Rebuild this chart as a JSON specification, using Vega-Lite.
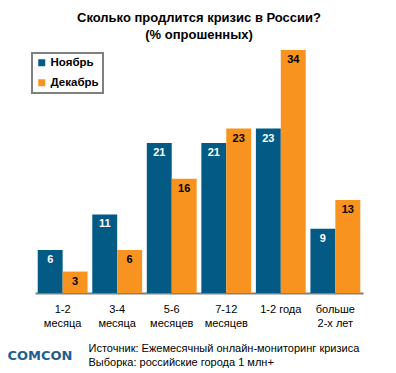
{
  "$schema": "https://vega.github.io/schema/vega-lite/v6.json",
  "autosize": "none",
  "padding": {"left": 35, "top": 50, "right": 33, "bottom": 80},
  "width": 328,
  "height": 243,
  "background": "white",
  "config": {
    "font": "Liberation Sans",
    "view": {"stroke": null}
  },
  "title": {
    "text": ["Сколько продлится кризис в России?", "(% опрошенных)"],
    "fontSize": 13,
    "fontWeight": "bold",
    "lineHeight": 17,
    "anchor": "middle",
    "offset": 8,
    "color": "black",
    "font": "Liberation Sans"
  },
  "data": {
    "values": [
      {"cat": "1-2|месяца", "series": "Ноябрь", "value": 6},
      {"cat": "1-2|месяца", "series": "Декабрь", "value": 3},
      {"cat": "3-4|месяца", "series": "Ноябрь", "value": 11},
      {"cat": "3-4|месяца", "series": "Декабрь", "value": 6},
      {"cat": "5-6|месяцев", "series": "Ноябрь", "value": 21},
      {"cat": "5-6|месяцев", "series": "Декабрь", "value": 16},
      {"cat": "7-12|месяцев", "series": "Ноябрь", "value": 21},
      {"cat": "7-12|месяцев", "series": "Декабрь", "value": 23},
      {"cat": "1-2 года", "series": "Ноябрь", "value": 23},
      {"cat": "1-2 года", "series": "Декабрь", "value": 34},
      {"cat": "больше|2-х лет", "series": "Ноябрь", "value": 9},
      {"cat": "больше|2-х лет", "series": "Декабрь", "value": 13}
    ]
  },
  "encoding": {
    "x": {
      "field": "cat",
      "type": "nominal",
      "sort": ["1-2|месяца", "3-4|месяца", "5-6|месяцев", "7-12|месяцев", "1-2 года", "больше|2-х лет"],
      "scale": {"paddingInner": 0.086, "paddingOuter": 0.05},
      "axis": {
        "labelAngle": 0,
        "labelExpr": "split(datum.label, '|')",
        "labelFontSize": 11,
        "labelColor": "black",
        "labelLineHeight": 14,
        "labelPadding": 10,
        "labelBaseline": "top",
        "ticks": false,
        "domainColor": "#808080",
        "domainWidth": 2,
        "title": ["Источник: Ежемесячный онлайн-мониторинг кризиса", "Выборка: российские города 1 млн+"],
        "titleFontSize": 11,
        "titleFontWeight": "normal",
        "titleColor": "black",
        "titleLineHeight": 14,
        "titleAlign": "left",
        "titleAnchor": "start",
        "titleBaseline": "top",
        "titleX": 53,
        "titleY": 49
      }
    },
    "xOffset": {
      "field": "series",
      "type": "nominal",
      "sort": ["Ноябрь", "Декабрь"],
      "scale": {"paddingInner": 0, "paddingOuter": 0}
    },
    "y": {
      "field": "value",
      "type": "quantitative",
      "scale": {"domain": [0, 34], "nice": false},
      "axis": {
        "domain": false,
        "ticks": false,
        "labels": false,
        "grid": false,
        "title": "COMCON",
        "titleAngle": 0,
        "titleAlign": "left",
        "titleBaseline": "middle",
        "titleX": -28,
        "titleY": 305,
        "titleFont": "DejaVu Sans",
        "titleFontSize": 13,
        "titleFontWeight": "bold",
        "titleColor": "#1f5e8e"
      }
    }
  },
  "layer": [
    {
      "mark": {"type": "bar"},
      "encoding": {
        "color": {
          "field": "series",
          "type": "nominal",
          "sort": ["Ноябрь", "Декабрь"],
          "scale": {"domain": ["Ноябрь", "Декабрь"], "range": ["#035a84", "#f7931e"]},
          "legend": {
            "title": null,
            "orient": "none",
            "legendX": -3,
            "legendY": 3,
            "symbolType": "square",
            "symbolSize": 49,
            "symbolStrokeWidth": 0,
            "labelFontSize": 11.5,
            "labelFontWeight": "bold",
            "labelColor": "black",
            "labelOffset": 3,
            "rowPadding": 7,
            "padding": 4,
            "strokeColor": "#808080",
            "fillColor": "white",
            "encode": {"legend": {"update": {"strokeWidth": {"value": 2}}}}
          }
        }
      }
    },
    {
      "mark": {"type": "text", "baseline": "middle", "dy": 10, "fontSize": 11, "fontWeight": "bold"},
      "encoding": {
        "text": {"field": "value", "type": "quantitative"},
        "color": {
          "condition": {"test": "datum.series === 'Ноябрь'", "value": "white"},
          "value": "black"
        }
      }
    }
  ]
}
